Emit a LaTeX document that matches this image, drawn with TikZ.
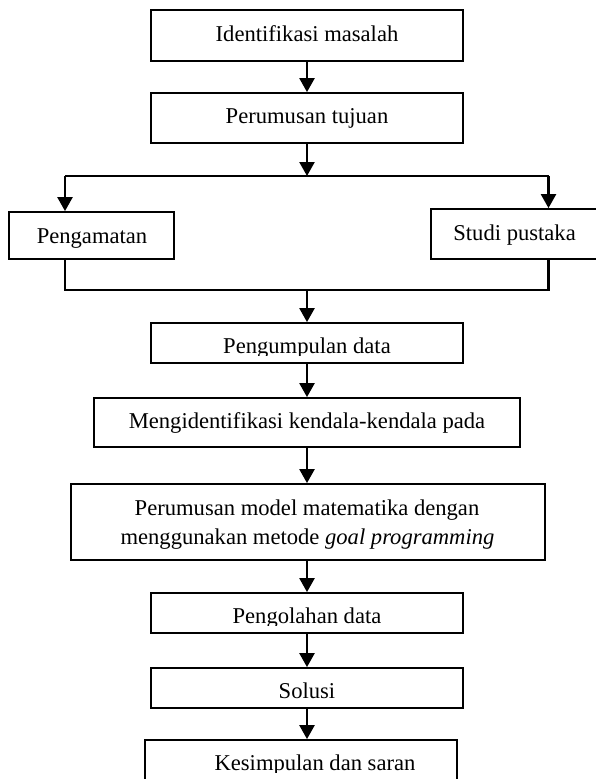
\documentclass[tikz,border=0pt]{standalone}
\usepackage{fontspec}
\setmainfont{Liberation Serif}
\usetikzlibrary{arrows.meta,fit}
\begin{document}
\begin{tikzpicture}[x=1pt,y=-1pt,
  box/.style={draw, line width=1.8pt, inner sep=0pt},
  lbl/.style={anchor=base, inner sep=0pt, font=\fontsize{22.6pt}{29pt}\selectfont},
  conn/.style={line width=2.4pt},
  arr/.style={conn, -{Triangle[length=14pt,width=15pt]}}]
\useasboundingbox (0,0) rectangle (596,779);
% boxes
\node[box, fit={(151,10) (463,61)}] (b1) {};
\node[box, fit={(151,93) (463,143)}] (b2) {};
\node[box, fit={(9,212) (174,259)}] (b3) {};
\node[box, fit={(431,209) (620,259)}] (b4) {};
\node[box, fit={(151,323) (463,363)}] (b5) {};
\node[box, fit={(94,398) (520,447)}] (b6) {};
\node[box, fit={(71,484) (545,560)}] (b7) {};
\node[box, fit={(151,593) (463,633)}] (b8) {};
\node[box, fit={(151,668) (463,708)}] (b9) {};
\node[box, fit={(145,740) (457,810)}] (b10) {};
% texts
\node[lbl] (t1) at (307,41) {Identifikasi masalah};
\node[lbl] (t2) at (307,123) {Perumusan tujuan};
\node[lbl] (t3) at (92,243) {Pengamatan};
\node[lbl] (t4) at (514.6,240) {Studi pustaka};
\begin{scope}
  \clip (151,323) rectangle (463,355);
  \node[lbl] (t5) at (307,353) {Pengumpulan data};
\end{scope}
\node[lbl] (t6) at (307,428) {Mengidentifikasi kendala-kendala pada};
\node[lbl] (t7a) at (307,515) {Perumusan model matematika dengan};
\node[lbl] (t7b) at (307.5,544) {menggunakan metode \textit{goal programming}};
\begin{scope}
  \clip (151,593) rectangle (463,625);
  \node[lbl] (t8) at (307,623) {Pengolahan data};
\end{scope}
\node[lbl] (t9) at (307,698) {Solusi};
\begin{scope}
  \clip (145,740) rectangle (457,772);
  \node[lbl] (t10) at (315,770) {Kesimpulan dan saran};
\end{scope}
% connector points
\coordinate (s) at (307,176);
\coordinate (sl) at (65,176);
\coordinate (sr) at (548.5,176);
\coordinate (jl) at (65,290);
\coordinate (jr) at (548.5,290);
\coordinate (j) at (307,290);
% connectors
\draw[arr] (b1.south) -- (b2.north);
\draw[arr] (b2.south) -- (s);
\draw[conn] (sl) -- (sr);
\draw[arr] (sl) -- (sl |- b3.north);
\draw[arr] (sr) -- (sr |- b4.north);
\draw[conn] (jl |- b3.south) -- (jl) -- (jr) -- (jr |- b4.south);
\draw[arr] (j) -- (b5.north);
\draw[arr] (b5.south) -- (b6.north);
\draw[arr] (b6.south -| b5.south) -- (b7.north -| b5.south);
\draw[arr] (b7.south -| b8.north) -- (b8.north);
\draw[arr] (b8.south) -- (b9.north);
\draw[arr] (b9.south) -- (b9.south |- b10.north);
\end{tikzpicture}
\end{document}
